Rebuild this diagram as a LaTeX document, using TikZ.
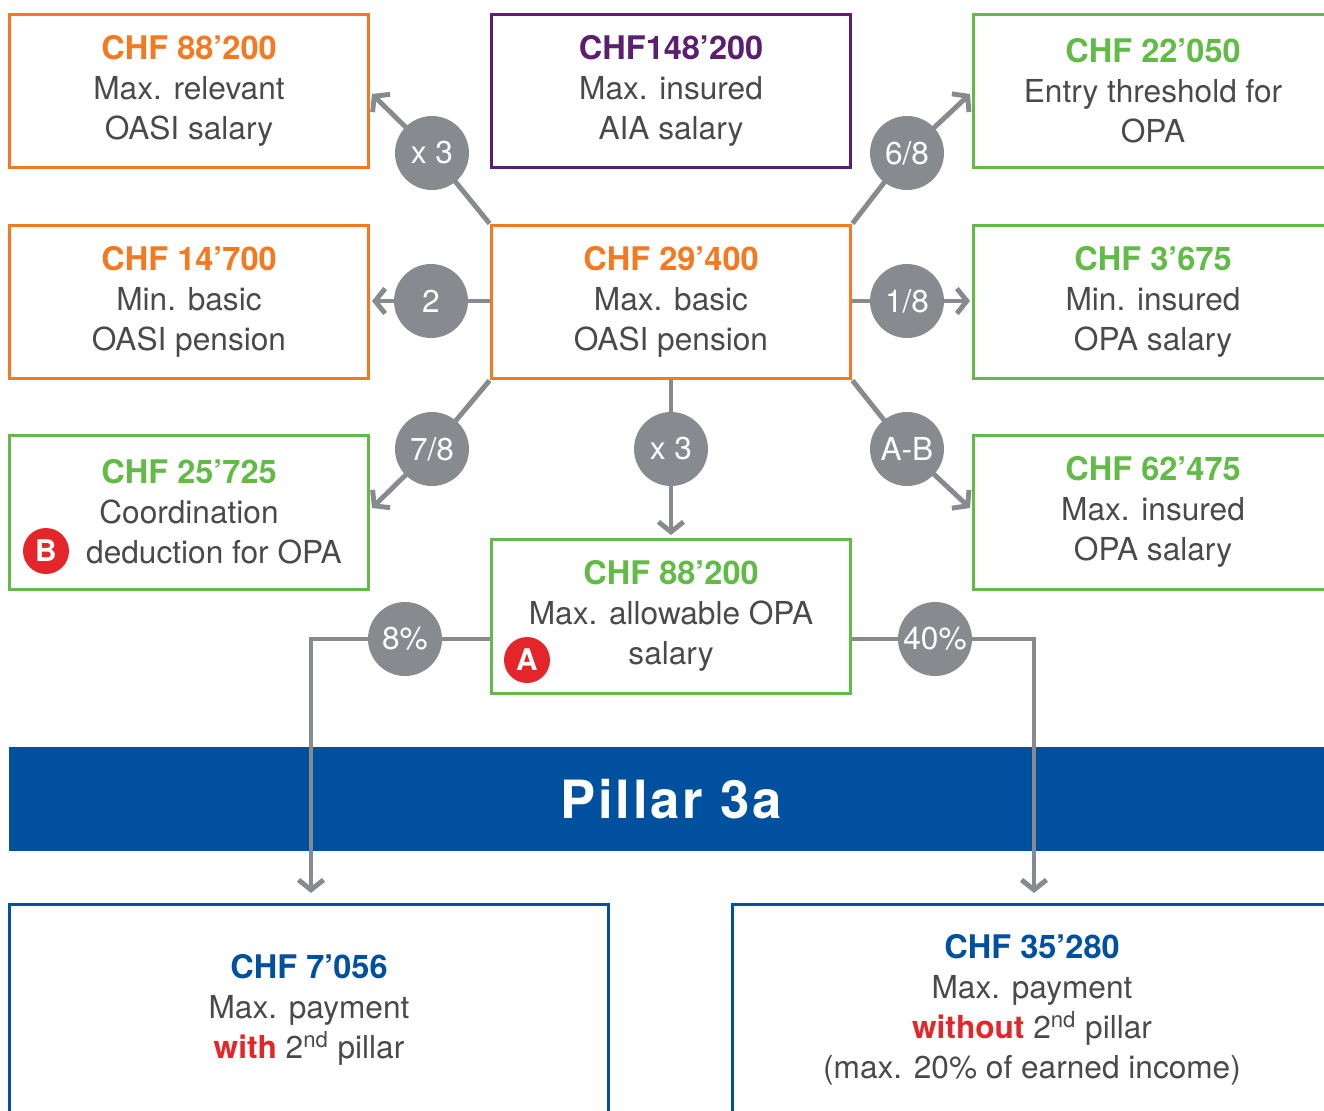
\documentclass[tikz,border=0pt]{standalone}
\usepackage{fontspec}
\setmainfont{TeX Gyre Heros}
\usetikzlibrary{arrows.meta}
\definecolor{oasiorange}{HTML}{F47920}
\definecolor{aiapurple}{HTML}{5C1E6E}
\definecolor{opagreen}{HTML}{62BB46}
\definecolor{pillarblue}{HTML}{0050A0}
\definecolor{circgray}{HTML}{878A8E}
\definecolor{markred}{HTML}{E4262A}
\definecolor{txtgray}{HTML}{4A4A4C}
\newcommand{\amount}[2]{\textcolor{#1}{\bfseries\fontsize{18.5}{22.8}\selectfont #2}}
\tikzset{
  box/.style={draw, line width=0.06cm, minimum width=7.2cm, minimum height=3.08cm, align=center, text=txtgray, inner sep=0pt, font=\fontsize{18}{22.8}\selectfont},
  paybox/.style={box, draw=pillarblue, minimum width=12cm, minimum height=4.24cm},
  badge/.style={circle, fill=circgray, text=white, minimum size=1.48cm, inner sep=0pt, font=\fontsize{18}{20}\selectfont},
  redmark/.style={circle, fill=markred, text=white, minimum size=0.92cm, inner sep=0pt, font=\bfseries\fontsize{17}{19}\selectfont},
  conn/.style={draw=circgray, line width=2.8pt, -{Straight Barb[length=0.2cm, width=0.5cm]}}
}
\begin{document}
\begin{tikzpicture}[x=0.02cm, y=-0.02cm]
\path[use as bounding box, clip] (0,0) rectangle (1324,1110);
\node[box, draw=oasiorange] (oasisal) at (189,91) {\amount{oasiorange}{CHF 88’200}\\Max. relevant\\OASI salary};
\node[box, draw=aiapurple] (aiasal) at (671,91) {\amount{aiapurple}{CHF148’200}\\Max. insured\\AIA salary};
\node[box, draw=opagreen] (entry) at (1153,91) {\amount{opagreen}{CHF 22’050}\\Entry threshold for\\OPA};
\node[box, draw=oasiorange] (minpen) at (189,302) {\amount{oasiorange}{CHF 14’700}\\Min. basic\\OASI pension};
\node[box, draw=oasiorange] (hub) at (671,302) {\amount{oasiorange}{CHF 29’400}\\Max. basic\\OASI pension};
\node[box, draw=opagreen] (mininsured) at (1153,302) {\amount{opagreen}{CHF 3’675}\\Min. insured\\OPA salary};
\node[box, draw=opagreen] (coord) at (189,512) {\amount{opagreen}{CHF 25’725}\\Coordination\\\hspace*{1.0cm}deduction for OPA};
\node[box, draw=opagreen] (maxinsured) at (1153,512) {\amount{opagreen}{CHF 62’475}\\Max. insured\\OPA salary};
\node[box, draw=opagreen] (allow) at (671,616) {\amount{opagreen}{CHF 88’200}\\Max. allowable OPA\\salary};
\node[redmark] (markA) at (527,660) {A};
\node[redmark] (markB) at (46,551) {B};
\node[fill=pillarblue, minimum width=26.48cm, minimum height=2.08cm, inner sep=0pt, text=white, font=\bfseries\fontsize{30}{32}\selectfont\addfontfeatures{LetterSpace=5}] (pillar) at (671,799) {Pillar 3a};
\node[paybox] (withpay) at (309,1010) {\amount{pillarblue}{CHF 7’056}\\Max. payment\\\textcolor{markred}{\bfseries with} 2\textsuperscript{nd} pillar};
\node[paybox] (withoutpay) at (1032,1010) {\amount{pillarblue}{CHF 35’280}\\Max. payment\\\textcolor{markred}{\bfseries without} 2\textsuperscript{nd} pillar\\(max. 20\% of earned income)};
\coordinate (c1) at (432,153);
\coordinate (c2) at (907,153);
\coordinate (c3) at (432,449);
\coordinate (c4) at (907,449);
\coordinate (c5) at (431,301);
\coordinate (c6) at (907,301);
\coordinate (c7) at (671,449);
\coordinate (t1) at (372,94);
\coordinate (t2) at (970,94);
\coordinate (t3) at (372,508);
\coordinate (t4) at (970,508);
\coordinate (t5) at (372,301);
\coordinate (t6) at (970,301);
\coordinate (t7) at (671,535);
\coordinate (k1) at (311,639);
\coordinate (e1) at (311,893);
\coordinate (k2) at (1034,639);
\coordinate (e2) at (1034,893);
\draw[conn] (hub.north west) -- (c1) -- (t1);
\draw[conn] (hub.north east) -- (c2) -- (t2);
\draw[conn] (hub.south west) -- (c3) -- (t3);
\draw[conn] (hub.south east) -- (c4) -- (t4);
\draw[conn] (hub.west |- c5) -- (t5);
\draw[conn] (hub.east |- c6) -- (t6);
\draw[conn] (hub.south) -- (t7);
\draw[conn] (allow.west |- k1) -- (k1) -- (e1);
\draw[conn] (allow.east |- k2) -- (k2) -- (e2);
\node[badge] (times3a) at (c1) {x 3};
\node[badge] (sixeighth) at (c2) {6/8};
\node[badge] (seveneighth) at (c3) {7/8};
\node[badge] (aminusb) at (c4) {A-B};
\node[badge] (half) at (c5) {2};
\node[badge] (oneeighth) at (c6) {1/8};
\node[badge] (times3b) at (c7) {x 3};
\node[badge] (eightpc) at (405,639) {8\%};
\node[badge] (fortypc) at (935,639) {40\%};
\end{tikzpicture}
\end{document}
